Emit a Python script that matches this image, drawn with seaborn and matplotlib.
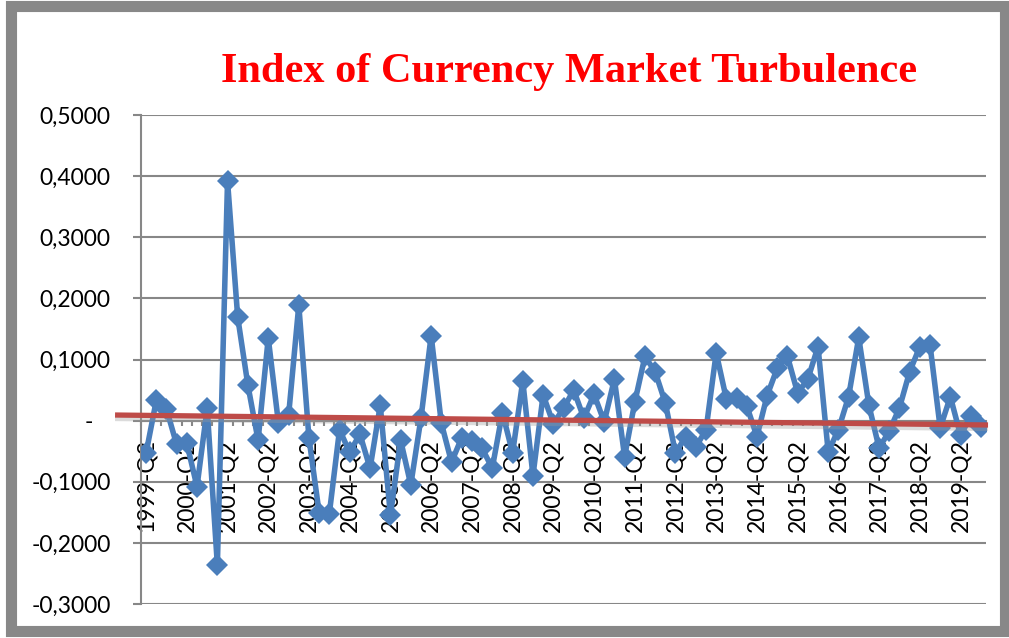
import numpy as np
import pandas as pd
import matplotlib
matplotlib.use("Agg")
import matplotlib.pyplot as plt
import matplotlib.patheffects as pe
from matplotlib.patches import Rectangle
import seaborn as sns

# Quarterly categories: 1999-Q2 .. 2019-Q4
years = list(range(1999, 2020))
quarters = ["Q1", "Q2", "Q3", "Q4"]
periods = [f"{y}-{q}" for y in years for q in quarters][1:]

# Index values
turbulence = [
    -0.053, 0.033, 0.019, -0.039, -0.037, -0.108, 0.020, -0.236, 0.392, 0.169,
    0.058, -0.032, 0.135, -0.004, 0.009, 0.189, -0.029, -0.151, -0.152, -0.015,
    -0.052, -0.022, -0.078, 0.025, -0.155, -0.032, -0.105, 0.004, 0.139, -0.004,
    -0.068, -0.028, -0.033, -0.045, -0.078, 0.013, -0.053, 0.065, -0.090, 0.042,
    -0.005, 0.020, 0.050, 0.004, 0.043, -0.002, 0.068, -0.059, 0.030, 0.105,
    0.080, 0.029, -0.053, -0.026, -0.043, -0.015, 0.111, 0.035, 0.037, 0.024,
    -0.026, 0.041, 0.086, 0.105, 0.045, 0.068, 0.121, -0.051, -0.015, 0.039,
    0.136, 0.025, -0.045, -0.017, 0.021, 0.080, 0.121, 0.124, -0.012, 0.039,
    -0.024, 0.007, -0.010,
]

# Trendline values at first and last quarter, backward forecast in periods
trend_first = 0.0086
trend_last = -0.0070
trend_backcast = 2.55

df = pd.DataFrame({"idx": np.arange(len(periods)), "period": periods, "value": turbulence})

sns.set_style("white")
plt.rcParams["font.family"] = ["Lato", "DejaVu Sans"]

fig = plt.figure(figsize=(10.09, 6.38), dpi=100)
ax = fig.add_axes([141 / 1009, 1 - 604 / 638, (986 - 141) / 1009, (604 - 115) / 638])

grey = "#878787"
blue = "#4A7EBB"
red = "#BE4B48"

sns.lineplot(data=df, x="idx", y="value", ax=ax, color=blue, linewidth=4,
             marker="D", markersize=11, markeredgewidth=0, zorder=3)

# linear trendline, extended backwards like Excel's backward forecast
n = len(periods)
slope = (trend_last - trend_first) / (n - 1)
tx = np.array([-trend_backcast - 0.5, n - 0.3])
ty = trend_first + slope * tx
ax.plot(tx, ty, color=red, linewidth=3.8, zorder=4, clip_on=False, solid_capstyle="butt",
        path_effects=[pe.SimpleLineShadow(offset=(0, -2.5), shadow_color="#999999", alpha=0.35),
                      pe.Normal()])

ax.set_xlim(-0.5, n - 0.5)
ax.set_ylim(-0.3, 0.5)

yt = np.round(np.arange(-0.3, 0.51, 0.1), 1)
ax.set_yticks(yt)
ax.set_yticklabels(["-   " if v == 0 else f"{v:.4f}".replace(".", ",") for v in yt])
ax.yaxis.grid(True, color=grey, linewidth=1.5)
ax.xaxis.grid(False)

ax.set_xticks(df["idx"][::4])
ax.set_xticklabels(df["period"][::4])
ax.set_xticks(np.arange(-0.5, n, 1), minor=True)

for s in ["top", "right"]:
    ax.spines[s].set_visible(False)
ax.spines["left"].set_color(grey)
ax.spines["left"].set_linewidth(1.5)
ax.spines["bottom"].set_position(("data", 0))
ax.spines["bottom"].set_color(grey)
ax.spines["bottom"].set_linewidth(1.5)

ax.tick_params(axis="y", which="major", length=5.8, width=1.5, color=grey, pad=16,
               labelsize=16.5, labelcolor="black", left=True)
ax.tick_params(axis="x", which="major", length=0, pad=13.5, labelsize=16.5,
               labelcolor="black", labelrotation=90)
ax.tick_params(axis="x", which="minor", length=3.6, width=1.5, color=grey, bottom=True)
ax.set_xlabel("")
ax.set_ylabel("")

fig.text(569 / 1009, 1 - 82 / 638, "Index of Currency Market Turbulence",
         ha="center", va="baseline", color="red", fontsize=30.5, fontweight="bold",
         family=["Liberation Serif", "DejaVu Serif"])

# grey outer frame
fig.patches.append(Rectangle((11 / 1009, 7.5 / 638), (1004.5 - 11) / 1009, (632.5 - 7.5) / 638,
                             transform=fig.transFigure, fill=False, edgecolor="#888888",
                             linewidth=8))

fig.savefig("out.png", dpi=100)
